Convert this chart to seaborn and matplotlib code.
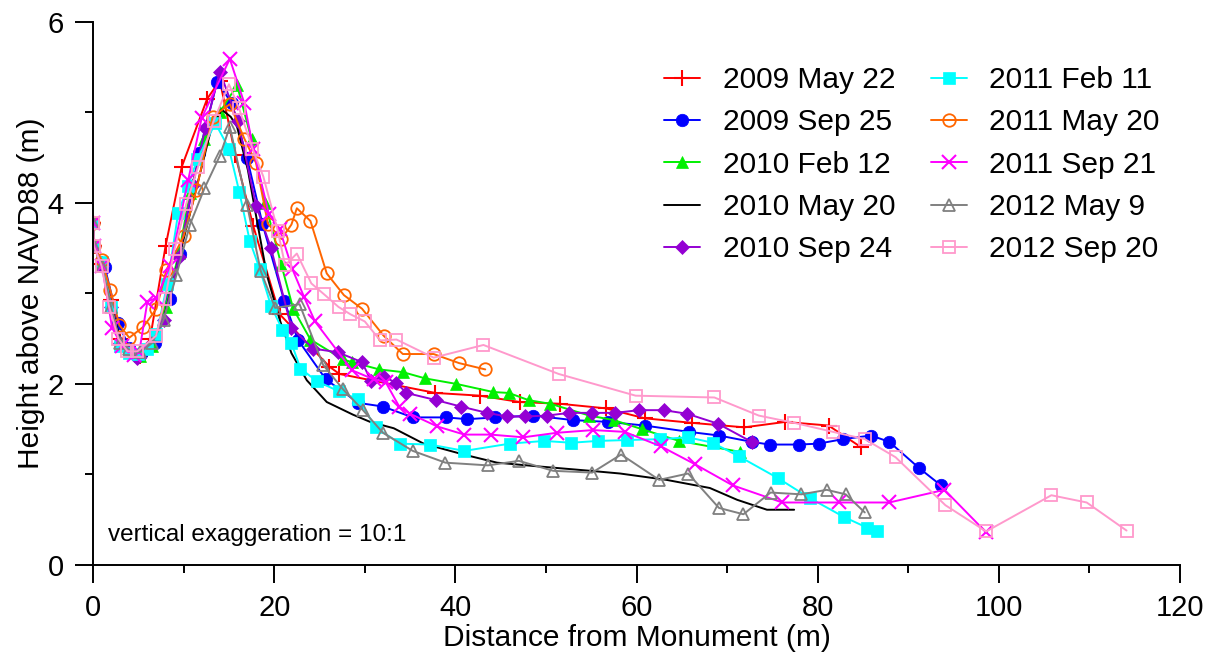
import matplotlib
matplotlib.use("Agg")
import matplotlib.pyplot as plt
import seaborn as sns
import numpy as np
import pandas as pd
from matplotlib.ticker import MultipleLocator

# ---------------- data ----------------
labels = ["2009 May 22", "2009 Sep 25", "2010 Feb 12", "2010 May 20", "2010 Sep 24",
          "2011 Feb 11", "2011 May 20", "2011 Sep 21", "2012 May 9", "2012 Sep 20"]

x_2009_may = [0, 0.1, 1.0, 2.0, 3.0, 4.2, 5.2, 6.3, 8.0, 9.8, 12.6, 14.0, 15.7, 17.7, 20.6, 26.1, 27.2,
              37.8, 42.7, 47.1, 51.6, 56.6, 60.9, 66.1, 71.9, 76.4, 81.2, 84.8]
y_2009_may = [3.78, 3.52, 3.32, 2.93, 2.50, 2.36, 2.31, 2.50, 3.52, 4.40, 5.15, 5.35, 4.53, 3.74, 2.77, 2.19, 2.11,
              1.90, 1.87, 1.80, 1.78, 1.73, 1.62, 1.57, 1.52, 1.58, 1.54, 1.30]

x_2009_sep = [0, 0.1, 1.3, 2.8, 4.0, 5.3, 6.85, 8.5, 9.6, 11.7, 13.7, 15.3, 17.0, 18.7, 21.1, 22.6, 25.7, 29.3,
              32.0, 35.3, 39.0, 41.3, 44.4, 48.6, 53.0, 56.9, 60.9, 65.8, 69.1, 72.7, 74.7, 77.9, 80.1, 82.8,
              85.9, 87.9, 91.2, 93.6]
y_2009_sep = [3.78, 3.52, 3.29, 2.67, 2.40, 2.33, 2.45, 2.94, 3.44, 4.55, 5.34, 5.10, 4.50, 3.77, 2.92, 2.49, 2.05, 1.79,
              1.75, 1.63, 1.63, 1.61, 1.63, 1.65, 1.60, 1.58, 1.54, 1.47, 1.43, 1.36, 1.33, 1.33, 1.34, 1.39,
              1.43, 1.36, 1.07, 0.88]

x_2010_feb = [0, 0.1, 1.0, 2.0, 3.0, 4.0, 5.2, 6.5, 8.0, 9.5, 10.7, 12.3, 14.0, 15.9, 17.5, 19.0, 20.8, 22.1, 24.0,
              27.6, 28.6, 31.6, 34.2, 36.7, 40.1, 44.2, 45.9, 48.1, 50.5, 54.8, 57.5, 60.6, 64.7, 71.4]
y_2010_feb = [3.78, 3.52, 3.32, 2.85, 2.45, 2.36, 2.31, 2.42, 2.85, 3.45, 4.11, 4.70, 5.00, 5.30, 4.70, 4.00, 3.31, 2.83, 2.49,
              2.27, 2.24, 2.16, 2.13, 2.06, 2.00, 1.91, 1.90, 1.82, 1.78, 1.65, 1.60, 1.50, 1.37, 1.25]

x_2010_may = [0, 0.1, 1, 2, 3, 4, 5, 6, 7, 8, 9, 10, 11, 12, 13, 14.2, 15.2, 15.9, 17.1, 18.1, 19.2, 20.6, 21.9,
              23.6, 25.8, 28.7, 30.6, 33.2, 36.5, 40.9, 44.6, 49.0, 54.9, 58.2, 63.3, 68.1, 71.1, 74.4, 77.4]
y_2010_may = [3.78, 3.52, 3.30, 2.85, 2.50, 2.37, 2.32, 2.36, 2.50, 2.80, 3.20, 3.60, 4.00, 4.40, 4.80, 5.03, 4.95, 4.84,
              4.36, 3.80, 3.20, 2.71, 2.34, 2.04, 1.80, 1.66, 1.58, 1.51, 1.34, 1.22, 1.13, 1.09, 1.04, 1.01,
              0.94, 0.85, 0.72, 0.61, 0.61]

x_2010_sep = [0, 0.1, 1.0, 2.0, 3.0, 4.0, 4.8, 6.0, 7.8, 9.5, 11.0, 12.4, 14.0, 16.0, 18.0, 19.65, 21.9, 24.3,
              27.0, 29.7, 30.7, 32.1, 33.5, 34.6, 37.9, 40.6, 43.5, 45.7, 47.7, 50.1, 52.6, 55.1, 57.6, 60.3,
              63.0, 65.6, 69.0, 72.7]
y_2010_sep = [3.78, 3.52, 3.30, 2.85, 2.45, 2.36, 2.29, 2.40, 2.71, 3.40, 4.20, 4.83, 5.45, 4.90, 3.97, 3.50, 2.62, 2.39,
              2.35, 2.24, 2.03, 2.08, 2.01, 1.90, 1.82, 1.75, 1.68, 1.64, 1.64, 1.65, 1.68, 1.68, 1.68, 1.71,
              1.71, 1.67, 1.56, 1.36]

x_2011_feb = [0, 0.1, 1.0, 2.0, 3.0, 4.0, 5.0, 6.0, 7.0, 8.2, 9.4, 10.5, 11.5, 13.5, 15.0, 16.15, 17.3, 18.4,
              19.65, 20.9, 21.9, 22.9, 24.7, 27.1, 29.3, 31.2, 33.9, 37.2, 41.0, 46.0, 49.8, 52.8, 55.7, 59.0,
              62.6, 65.7, 68.4, 71.3, 75.6, 79.1, 82.9, 85.5, 86.6]
y_2011_feb = [3.78, 3.52, 3.35, 2.85, 2.42, 2.34, 2.33, 2.38, 2.55, 3.10, 3.89, 4.19, 4.48, 4.88, 4.60, 4.12, 3.58, 3.27,
              2.86, 2.60, 2.45, 2.17, 2.03, 1.92, 1.83, 1.52, 1.34, 1.33, 1.26, 1.34, 1.37, 1.35, 1.37, 1.38,
              1.39, 1.41, 1.35, 1.20, 0.96, 0.74, 0.53, 0.41, 0.38]

x_2011_may = [0, 0.1, 0.96, 1.9, 2.9, 4.0, 5.55, 7.0, 8.1, 10.0, 11.4, 13.2, 15.1, 16.7, 18.0, 19.3, 20.8, 21.9,
              22.5, 24.0, 25.8, 27.7, 29.7, 32.1, 34.2, 37.6, 40.4, 43.3]
y_2011_may = [3.78, 3.52, 3.37, 3.04, 2.65, 2.51, 2.63, 2.83, 3.26, 3.63, 4.14, 4.95, 5.09, 4.71, 4.44, 3.77, 3.60, 3.76,
              3.94, 3.80, 3.22, 2.98, 2.83, 2.53, 2.33, 2.33, 2.23, 2.16]

x_2011_sep = [0, 0.1, 1.0, 2.1, 3.2, 4.5, 5.1, 6.0, 7.0, 8.5, 10.5, 12.0, 15.1, 16.7, 17.7, 19.4, 20.6, 22.0,
              23.3, 24.5, 28.6, 31.0, 32.3, 33.8, 35.0, 38.0, 41.0, 43.9, 47.5, 51.2, 55.2, 58.7, 62.7, 66.5,
              70.6, 76.1, 82.3, 87.9, 94.0, 98.6]
y_2011_sep = [3.78, 3.52, 3.30, 2.62, 2.42, 2.32, 2.35, 2.91, 2.95, 3.30, 4.25, 4.94, 5.59, 5.10, 4.59, 3.88, 3.71, 3.27,
              2.96, 2.69, 2.15, 2.05, 2.02, 1.75, 1.67, 1.53, 1.44, 1.44, 1.41, 1.46, 1.49, 1.47, 1.31, 1.11,
              0.88, 0.69, 0.69, 0.69, 0.83, 0.36]

x_2012_may = [0, 0.1, 1.0, 2.0, 3.0, 4.0, 5.2, 6.5, 7.8, 9.2, 10.7, 12.3, 14.0, 15.1, 17.0, 18.5, 20.1, 22.8,
              25.4, 27.6, 29.8, 32.0, 35.3, 38.9, 43.6, 47.0, 50.8, 55.1, 58.3, 62.5, 65.7, 69.1, 71.8, 74.8,
              78.2, 81.0, 83.1, 85.2]
y_2012_may = [3.78, 3.52, 3.30, 2.85, 2.45, 2.38, 2.35, 2.45, 2.71, 3.20, 3.76, 4.16, 4.52, 4.84, 3.98, 3.25, 2.84, 2.88,
              2.21, 1.94, 1.71, 1.46, 1.26, 1.13, 1.10, 1.15, 1.04, 1.02, 1.22, 0.94, 1.01, 0.63, 0.56, 0.80,
              0.78, 0.83, 0.78, 0.58]

x_2012_sep = [0, 0.1, 0.96, 1.77, 2.8, 3.8, 4.9, 6.95, 7.95, 9.0, 10.3, 11.6, 13.3, 15.0, 16.1, 17.6, 18.8, 20.4,
              21.2, 22.5, 24.1, 25.5, 27.1, 28.4, 30.0, 31.7, 33.5, 37.6, 43.1, 51.4, 59.9, 68.6, 73.5, 77.4,
              81.7, 85.2, 88.6, 94.1, 98.6, 105.8, 109.7, 114.1]
y_2012_sep = [3.78, 3.52, 3.30, 2.85, 2.50, 2.36, 2.36, 2.53, 2.94, 3.49, 3.99, 4.40, 4.90, 5.31, 5.05, 4.60, 4.29, 3.69,
              3.31, 3.44, 3.11, 2.99, 2.85, 2.77, 2.69, 2.48, 2.49, 2.29, 2.43, 2.11, 1.87, 1.85, 1.65, 1.57,
              1.47, 1.39, 1.19, 0.66, 0.37, 0.77, 0.69, 0.38]

xs = [x_2009_may, x_2009_sep, x_2010_feb, x_2010_may, x_2010_sep,
      x_2011_feb, x_2011_may, x_2011_sep, x_2012_may, x_2012_sep]
ys = [y_2009_may, y_2009_sep, y_2010_feb, y_2010_may, y_2010_sep,
      y_2011_feb, y_2011_may, y_2011_sep, y_2012_may, y_2012_sep]

# ---------------- style ----------------
colors = ["#ff0000", "#0000ff", "#00f000", "#000000", "#9400d3",
          "#00ffff", "#ff6600", "#ff00ff", "#808080", "#ff99cc"]
markers = ["+", "o", "^", None, "D", "s", "o", "x", "^", "s"]
msizes = [12, 9, 9, 0, 7, 8.5, 9, 10, 9, 9]
filled = [True, True, True, True, True, True, False, True, False, False]

sns.set_style("ticks")
plt.rcParams["font.family"] = ["Liberation Sans", "DejaVu Sans"]
plt.rcParams["text.color"] = "black"
plt.rcParams["axes.labelcolor"] = "black"
plt.rcParams["xtick.color"] = "black"
plt.rcParams["ytick.color"] = "black"
plt.rcParams["axes.edgecolor"] = "black"

fig = plt.figure(figsize=(12.1, 6.6), dpi=100)
ax = fig.add_axes([0.0769, 0.144, 0.8983, 0.823])

for i, lab in enumerate(labels):
    df = pd.DataFrame({"x": xs[i], "y": ys[i]})
    kw = dict(color=colors[i], linewidth=1.4, label=lab, sort=False, estimator=None, ax=ax)
    if markers[i] is not None:
        kw["marker"] = markers[i]
        kw["markersize"] = msizes[i]
        if filled[i]:
            kw["markerfacecolor"] = colors[i]
            kw["markeredgecolor"] = colors[i]
            if markers[i] in ("+", "x"):
                kw["markeredgewidth"] = 1.5
            else:
                kw["markeredgewidth"] = 0.5
        else:
            kw["markerfacecolor"] = "none"
            kw["markeredgecolor"] = colors[i]
            kw["markeredgewidth"] = 1.3
    sns.lineplot(data=df, x="x", y="y", **kw)

ax.set_xlim(0, 120)
ax.set_ylim(0, 6)
ax.xaxis.set_major_locator(MultipleLocator(20))
ax.xaxis.set_minor_locator(MultipleLocator(10))
ax.yaxis.set_major_locator(MultipleLocator(2))
ax.yaxis.set_minor_locator(MultipleLocator(1))
ax.tick_params(which="major", length=13, width=1.4, labelsize=21, direction="out", pad=8,
               colors="black")
ax.tick_params(which="minor", length=6, width=1.4, direction="out", colors="black")
for s in ["top", "right"]:
    ax.spines[s].set_visible(False)
for s in ["left", "bottom"]:
    ax.spines[s].set_linewidth(1.4)

ax.set_xlabel("Distance from Monument (m)", fontsize=21.5, labelpad=1)
ax.set_ylabel("Height above NAVD88 (m)", fontsize=21.5, labelpad=2)

ax.text(1.6, 0.33, "vertical exaggeration = 10:1", fontsize=17.5, va="center", ha="left")

leg = ax.legend(ncol=2, loc="upper right", bbox_to_anchor=(1.006, 0.968), frameon=False,
                fontsize=21.5, handlelength=1.2, handletextpad=0.75, columnspacing=1.2,
                labelspacing=0.48)

fig.savefig("out.png", dpi=100)
